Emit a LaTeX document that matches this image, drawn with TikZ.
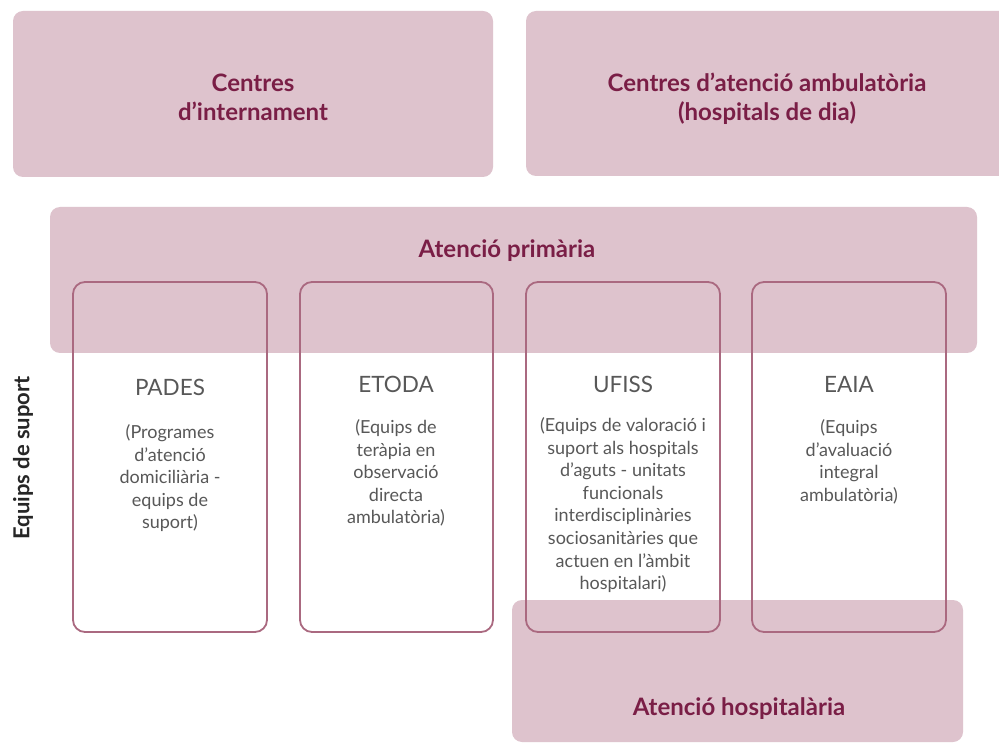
\documentclass[tikz,border=0pt]{standalone}
\usepackage{fontspec}
\setmainfont{Lato}
\definecolor{pinkfill}{RGB}{222,195,205}
\definecolor{maroon}{RGB}{122,30,70}
\definecolor{boxline}{RGB}{170,105,128}
\definecolor{bodygrey}{RGB}{88,88,88}
\tikzset{
  area/.style={fill=pinkfill, draw=none, rounded corners=10pt},
  teambox/.style={draw=boxline, line width=1.8pt, rounded corners=12pt},
  heading/.style={text=maroon, font=\bfseries\fontsize{24}{29}\selectfont, align=center},
  teamtitle/.style={text=bodygrey, font=\fontsize{22.5}{26}\selectfont},
  teamdesc/.style={text=bodygrey, font=\fontsize{18}{22.6}\selectfont, align=center, anchor=north},
}
\begin{document}
\begin{tikzpicture}[x=1pt,y=-1pt]
\useasboundingbox (0,0) rectangle (999,743);
\clip (0,0) rectangle (999,743);
\fill[white] (0,0) rectangle (999,743);
% areas
\draw[area] (13,11) rectangle (493,177);
\draw[area] (526,11) rectangle (1012,176);
\draw[area] (50,207) rectangle (977,353);
\draw[area] (512,600) rectangle (963,742);
% headings
\node[heading] (internament) at (253,97) {Centres\\d’internament};
\node[heading] (ambulatoria) at (767,99) {Centres d’atenció ambulatòria\\(hospitals de dia)};
\node[heading] (primaria) at (507,251) {Atenció primària};
\node[heading] (hospitalaria) at (739,709) {Atenció hospitalària};
% side label
\node[rotate=90, font=\bfseries\fontsize{22}{24}\selectfont, text=black!85] (suport) at (23,458) {Equips de suport};
% team boxes
\draw[teambox] (73,282) rectangle (267,632);
\draw[teambox] (300,282) rectangle (493,632);
\draw[teambox] (526,282) rectangle (720,632);
\draw[teambox] (752,282) rectangle (946,632);
% titles
\node[teamtitle] (pades) at (170,387) {PADES};
\node[teamtitle] (etoda) at (396,384) {ETODA};
\node[teamtitle] (ufiss) at (623,384) {UFISS};
\node[teamtitle] (eaia) at (849,384) {EAIA};
% descriptions
\node[teamdesc] (padesd) at (170,421) {(Programes\\d’atenció\\domiciliària -\\equips de\\suport)};
\node[teamdesc] (etodad) at (396,416) {(Equips de\\teràpia en\\observació\\directa\\ambulatòria)};
\node[teamdesc] (ufissd) at (623,414) {(Equips de valoració i\\suport als hospitals\\d’aguts - unitats\\funcionals\\interdisciplinàries\\sociosanitàries que\\actuen en l’àmbit\\hospitalari)};
\node[teamdesc] (eaiad) at (849,416) {(Equips\\d’avaluació\\integral\\ambulatòria)};
\end{tikzpicture}
\end{document}
